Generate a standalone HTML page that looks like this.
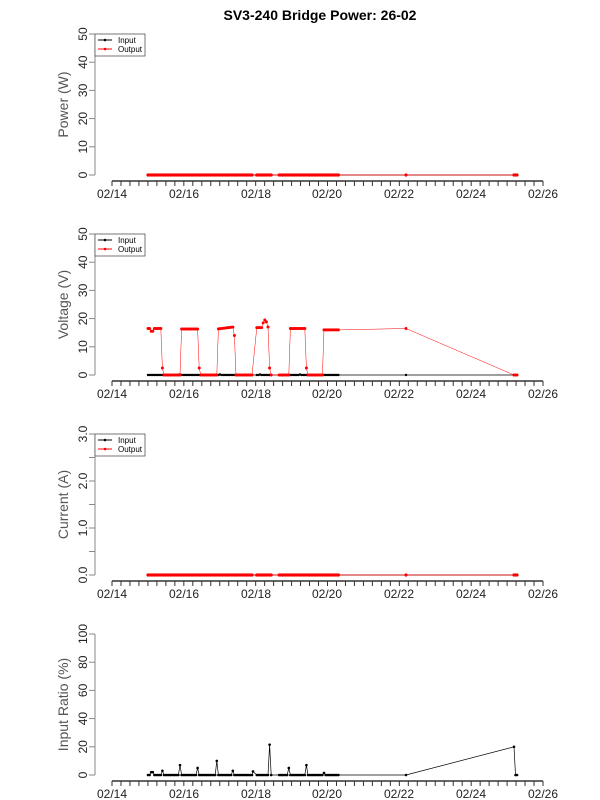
<!DOCTYPE html>
<html><head><meta charset="utf-8"><style>
body{margin:0;background:#fff;}
svg{display:block;font-family:"Liberation Sans",sans-serif;}
</style></head><body>
<svg id="s" width="600" height="800" xmlns="http://www.w3.org/2000/svg">
<text x="320" y="20" font-size="14" font-weight="bold" text-anchor="middle">SV3-240 Bridge Power: 26-02</text>
</svg>
<script>
var s=document.getElementById('s'),NS='http://www.w3.org/2000/svg';
function el(t,a,txt){var e=document.createElementNS(NS,t);for(var k in a)e.setAttribute(k,a[k]);if(txt!=null)e.textContent=txt;s.appendChild(e);return e;}
var days=['02/14','02/16','02/18','02/20','02/22','02/24','02/26'];
var xs=[112,184,256,327,399,471,543];
var pts=[];
for(var x=148;x<=340;x+=1.6){if((x>252&&x<256)||(x>272&&x<278))continue;pts.push(x);}
pts.push(406);pts.push(514);pts.push(515.5);pts.push(517);
function panel(y0,ymaxPx,ticks,labels,ylab,legend){
  var zero=y0-6, top=ymaxPx;
  el('line',{x1:95,y1:zero,x2:95,y2:top,stroke:'#888','stroke-width':1});
  for(var i=0;i<ticks.length;i++){var yy=zero-(zero-top)*i/(ticks.length-1);
    el('line',{x1:89,y1:yy,x2:95,y2:yy,stroke:'#888'});
    el('text',{x:83,y:yy,'font-size':12,'text-anchor':'middle',transform:'rotate(-90 83 '+yy+')','dominant-baseline':'central',fill:'#222'},labels[i]);}
  var my=(zero+top)/2;
  el('text',{x:68,y:my,'font-size':14,'text-anchor':'middle',transform:'rotate(-90 68 '+my+')',fill:'#555'},ylab);
  var ay=y0;
  el('line',{x1:112,y1:ay,x2:543,y2:ay,stroke:'#333','stroke-width':1.5});
  for(var t=112;t<=543.5;t+=431/48){el('line',{x1:t,y1:ay,x2:t,y2:ay+5,stroke:'#333'});}
  for(var i=0;i<7;i++)el('text',{x:xs[i],y:ay+17,'font-size':12,'text-anchor':'middle',fill:'#222'},days[i]);
  if(legend){
  el('rect',{x:95,y:top,width:50,height:22,fill:'#fff',stroke:'#555','stroke-width':0.8});
  el('line',{x1:98,y1:top+6,x2:112,y2:top+6,stroke:'#000'});el('circle',{cx:105,cy:top+6,r:1.3,fill:'#000'});
  el('line',{x1:98,y1:top+15,x2:112,y2:top+15,stroke:'#f00'});el('circle',{cx:105,cy:top+15,r:1.3,fill:'#f00'});
  el('text',{x:118,y:top+9,'font-size':8},'Input');el('text',{x:118,y:top+18,'font-size':8},'Output');}
  return zero;
}
function series(pp,col,w,r){
  var d='';pp.forEach(function(p,i){d+=(i?'L':'M')+p[0].toFixed(1)+' '+p[1].toFixed(1);});
  el('path',{d:d,fill:'none',stroke:col,'stroke-width':w});
  pp.forEach(function(p){el('circle',{cx:p[0],cy:p[1],r:r,fill:col});});
}
var z=panel(181,34,[0,1,2,3,4,5],['0','10','20','30','40','50'],'Power (W)',true);
series(pts.map(function(x){return[x,z];}),'#000',0.8,1.2);
series(pts.map(function(x){return[x,z];}),'#f00',0.8,1.6);
z=panel(381,234,[0,1,2,3,4,5],['0','10','20','30','40','50'],'Voltage (V)',true);
var sc=(z-234)/50;
function volt(x){
  var segs=[[148,162,16.5],[181,198,16.3],[217,233,16.8],[256,269,17],[289,306,16.5],[324,340,16]];
  for(var i=0;i<segs.length;i++){var a=segs[i];
    if(x>=a[0]&&x<=a[1]){
      if(a[0]==256){if(x>262&&x<268)return 17+2.5*Math.sin((x-262)/6*Math.PI);return 16.8;}
      if(a[0]==148&&Math.abs(x-152)<1)return 15.5;
      if(a[0]==217)return 16.3+0.7*(x-217)/16;
      return a[2];}
    if(x>a[1]&&x<a[1]+1.7)return (a[0]==217?14:2.5);
  }
  if(x==406)return 16.5;
  return 0;
}
series(pts.map(function(x){return[x,z-0.5*((Math.round(x)%20==0)?1:0)];}),'#000',0.8,1.2);
series(pts.map(function(x){return[x,z-volt(x)*sc];}),'#f00',0.5,1.5);
z=panel(581,434,[0,1,2,3,4,5,6],['0.0','','1.0','','2.0','','3.0'],'Current (A)',true);
series(pts.map(function(x){return[x,z];}),'#000',0.8,1.2);
series(pts.map(function(x){return[x,z];}),'#f00',0.8,1.6);
z=panel(781,634,[0,1,2,3,4,5],['0','20','40','60','80','100'],'Input Ratio (%)',false);
sc=(z-634)/100;
var sp={152:2,162:3,180:7,198:5,217:10,233:3,253:2.5,270:21.5,289:5,306:7,324:1.5,514:20};
var p4=[];pts.forEach(function(x){var v=0;for(var k in sp){if(Math.abs(x-k)<0.81)v=sp[k];}p4.push([x,z-v*sc]);});
for(var k in sp){var kx=+k,f=false;p4.forEach(function(p){if(Math.abs(p[0]-kx)<0.81)f=true;});if(!f)p4.push([kx,z-sp[k]*sc]);}
p4.sort(function(a,b){return a[0]-b[0];});
series(p4,'#000',0.7,1.3);
</script>
</body></html>
